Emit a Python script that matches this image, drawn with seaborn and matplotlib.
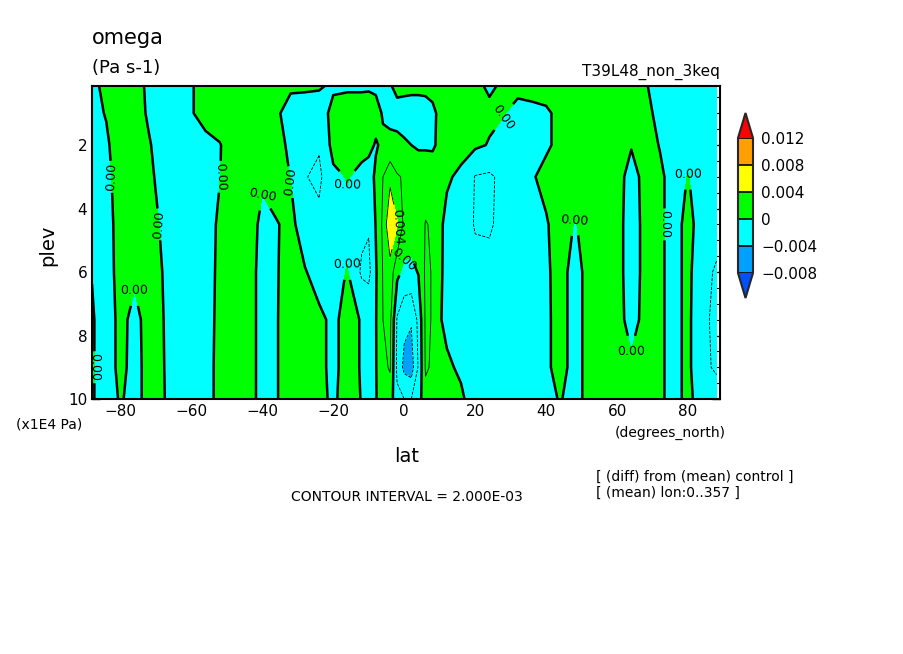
import numpy as np
import matplotlib
matplotlib.use("Agg")
import matplotlib.pyplot as plt
import seaborn as sns
from matplotlib.colors import ListedColormap, BoundaryNorm
from matplotlib.ticker import MultipleLocator

sns.set_theme(style="ticks")
plt.rcParams['font.family'] = ['DejaVu Sans']
plt.rcParams['text.color'] = 'black'
plt.rcParams['xtick.color'] = 'black'
plt.rcParams['ytick.color'] = 'black'

lat = [-88, -84, -80, -76, -72, -68, -64, -60, -56, -52,
       -48, -44, -40, -36, -32, -28, -24, -20, -16, -12,
       -10, -8, -6, -4, -2, 0, 2, 4, 6, 8,
       10, 12, 16, 20, 24, 28, 32, 36, 40, 44,
       48, 52, 56, 60, 64, 68, 72, 76, 80, 84, 88]
plev = [0.14, 1.0, 2.0, 3.0, 4.5, 6.0, 7.5, 9.0, 10.0]

# omega difference, units of 1e-3 Pa/s, one row per plev level
row_p0 = [-0.5, 0.5, 1, 1, -0.5, -1, -1, -0.2, 1, 1,
          1, 1, 0.8, 0.2, 0.3, 0.3, 0.2, -0.3, -0.3, -0.3,
          -0.2, -0.2, -0.2, -0.1, 0.3, 0.3, 0.3, 0.3, 0.3, 0.3,
          0.3, 0.5, 0.5, 0.3, -0.2, 0.2, 0.5, 0.8, 0.8, 1,
          1, 1, 1, 0.8, 1, 0.1, -0.5, -0.8, -0.8, -0.8, -0.8]
row_p1 = [-0.5, 0.1, 1, 1, -0.3, -1, -1, -0.2, 1, 1,
          1, 1, 0.3, 0.3, -0.8, -1, -1, 0.6, 1, 1,
          0.8, 0.4, -0.1, -0.4, -0.4, -0.5, -0.6, -0.6, -0.5, -0.2,
          0.2, 0.6, 0.6, 0.5, 0.3, 0.1, -0.6, -0.6, -0.3, 0.5,
          1, 1, 1, 0.8, 1, 0.3, -0.3, -0.8, -0.8, -0.8, -0.8]
row_p2 = [-0.5, -0.3, 1, 1, 0.2, -1, -1, -1, -0.8, -0.1,
          1, 1, 0.8, 0.5, -0.3, -1.2, -1.8, 0.6, 0.9, 0.6,
          0.3, -0.1, 0.2, 0.4, 0.3, 0.15, 0.0, -0.1, -0.2, -0.2,
          0.3, 0.5, 0.5, 0.3, -0.1, -0.8, -0.8, -0.6, -0.3, 0.5,
          1, 1, 1, 0.8, 0.1, 0.5, -0.05, -0.8, -0.5, -0.8, -0.8]
row_p3 = [-0.5, -0.6, 1, 1, 0.5, -0.8, -1, -1, -0.8, -0.05,
          1, 1, 0.3, 0.8, -0.05, -1.9, -2.4, -0.4, 0.1, -0.5,
          -0.5, 0.2, 2.0, 3.5, 2.2, 1.8, 0.8, 0.5, 1.0, 0.8,
          0.3, 0.2, -0.3, -2.1, -2.3, -1.5, -1.0, -0.2, 0.6, 1,
          1, 1, 1, 0.6, -0.6, 0.5, 0.25, -0.5, 0.05, -0.6, -0.8]
row_p45 = [-0.5, -1, 1, 1, 0.8, -0.3, -1, -1, -0.8, 0.3,
           1, 1, -0.5, -0.1, 0.4, -0.8, -1.5, -0.8, -0.5, -1.5,
           -1.8, 0.1, 2.4, 5.8, 4.2, 1.5, 1.0, 0.8, 2.1, 1.8,
           0.3, -0.4, -0.6, -2.2, -2.2, -1.5, -1.0, -0.6, -0.2, 1,
           -0.1, 0.5, 1, 0.6, -0.8, 0.5, 0.25, -0.5, 0.4, -0.6, -1.0]
row_p6 = [-0.1, -1.2, 1, 0.5, 1, -0.05, -1, -1, -0.8, 0.4,
          1, 1, -0.8, -0.1, 0.6, 0.1, -0.6, -0.6, 0.1, -2.3,
          -2.5, -0.2, 2.1, 3.2, 0.5, -0.5, -0.5, 0.1, 2.3, 1.9,
          0.3, -0.5, -0.6, -1.2, -1.5, -1.0, -0.8, -0.6, -0.25, 0.6,
          -0.6, 0.5, 1, 0.6, -0.8, 0.5, 0.25, -0.5, 0.4, -1.2, -2.3]
row_p75 = [0.3, -1.5, 0.8, -0.8, 1, 0.05, -1, -1, -0.8, 0.5,
           1, 1, -0.8, -0.1, 0.8, 0.3, 0.3, -0.3, 0.5, -0.1,
           -0.5, -0.1, 2.0, 2.5, -2.2, -3.5, -3.8, -1.5, 2.3, 1.9,
           0.1, -0.3, -0.5, -0.8, -1.0, -1.0, -0.8, -0.6, -0.3, 0.6,
           -0.6, 0.5, 1, 0.6, -0.6, 0.5, 0.25, -0.5, 0.4, -1.5, -2.5]
row_p9 = [0.3, -1.5, 0.8, -1.0, 1, 0.1, -1, -1, -0.8, 0.6,
          1, 1, -0.8, -0.1, 0.8, 0.2, 0.3, -0.3, 0.5, -0.1,
          -0.4, -0.1, 1.5, 2.2, -2.5, -4.5, -5.0, -1.8, 2.2, 1.8,
          0.3, 0.2, -0.2, -0.8, -1.2, -0.8, -0.8, -0.6, -0.3, 0.6,
          -0.6, 0.5, 1, 0.6, 0.3, 0.5, 0.25, -0.5, 0.4, -1.5, -2.3]
row_p10 = [0.3, -1.5, 0.3, -1.0, 1, 0.15, -1, -1, -0.8, 0.6,
           1, 1, -0.8, -0.1, 0.8, 0.2, 0.3, -0.2, 0.5, -0.05,
           -0.3, -0.1, 1.0, 1.0, -1.5, -2.0, -2.0, -1.0, 1.5, 1.0,
           0.3, 0.3, 0.2, -0.6, -1.0, -0.5, -0.6, -0.5, -0.4, 0.1,
           -0.6, 0.5, 1, 0.6, 0.5, 0.5, 0.25, -0.5, 0.4, -0.8, -1.0]

cbar_bounds = [-0.008, -0.004, 0, 0.004, 0.008, 0.012]
cbar_labels = ["\u22120.008", "\u22120.004", "0", "0.004", "0.008", "0.012"]
fill_colors = ["#0050ff", "#00a0ff", "#00ffff", "#00ff00", "#ffff00", "#ffa000", "#ff0000"]

Z = np.array([row_p0, row_p1, row_p2, row_p3, row_p45, row_p6, row_p75, row_p9, row_p10]) * 1e-3
LAT, P = np.meshgrid(lat, plev)

fig = plt.figure(figsize=(9.04, 6.54), dpi=100)
ax = fig.add_axes([92/904, 1-399/654, 628/904, 313/654])

fill_levels = [-1] + cbar_bounds + [1]
ax.contourf(LAT, P, Z, levels=fill_levels, colors=fill_colors)
line_levels = np.round(np.arange(-0.012, 0.0121, 0.002), 4)
neg = [l for l in line_levels if l < 0]
pos = [l for l in line_levels if l > 0]
ax.contour(LAT, P, Z, levels=neg, colors="black", linewidths=0.6, linestyles="--")
cp = ax.contour(LAT, P, Z, levels=pos, colors="black", linewidths=0.6, linestyles="-")
c0 = ax.contour(LAT, P, Z, levels=[0], colors="black", linewidths=1.8, linestyles="-")
ax.clabel(c0, fmt={0: "0.00"}, fontsize=9, inline=True, inline_spacing=2)
ax.clabel(cp, levels=[0.004], fmt={0.004: "0.004"}, fontsize=9, inline=True)

ax.set_xlim(-88, 89)
ax.set_ylim(10, 0.14)
ax.set_xticks([-80, -60, -40, -20, 0, 20, 40, 60, 80])
ax.set_yticks([2, 4, 6, 8, 10])
ax.xaxis.set_minor_locator(MultipleLocator(5))
ax.yaxis.set_minor_locator(MultipleLocator(0.5))
ax.tick_params(which="both", direction="in", top=True, right=True, labelsize=11, colors="black")
ax.tick_params(which="major", length=6, width=1)
ax.tick_params(which="minor", length=3, width=0.8)
for s in ax.spines.values():
    s.set_linewidth(1.5)
    s.set_color("black")
ax.set_xlabel("")
ax.set_ylabel("")

fig.text(92/904, 1-38/654, "omega", fontsize=15, va="center", ha="left")
fig.text(92/904, 1-68/654, "(Pa s-1)", fontsize=13, va="center", ha="left")
fig.text(720/904, 1-72/654, "T39L48_non_3keq", fontsize=11, va="center", ha="right")
fig.text(48/904, 1-245/654, "plev", fontsize=14, rotation=90, va="center", ha="center")
fig.text(407/904, 1-456/654, "lat", fontsize=14, va="center", ha="center")
fig.text(16/904, 1-424/654, "(x1E4 Pa)", fontsize=10, va="center", ha="left")
fig.text(615/904, 1-433/654, "(degrees_north)", fontsize=10, va="center", ha="left")
fig.text(407/904, 1-497/654, "CONTOUR INTERVAL = 2.000E-03", fontsize=10, va="center", ha="center")
fig.text(596/904, 1-477/654, "[ (diff) from (mean) control ]", fontsize=10, va="center", ha="left")
fig.text(596/904, 1-493/654, "[ (mean) lon:0..357 ]", fontsize=10, va="center", ha="left")

cax = fig.add_axes([738/904, 1-298/654, 15/904, 185/654])
cmap = ListedColormap(fill_colors[1:-1])
cmap.set_under(fill_colors[0])
cmap.set_over(fill_colors[-1])
norm = BoundaryNorm(cbar_bounds, cmap.N)
sm = matplotlib.cm.ScalarMappable(norm=norm, cmap=cmap)
cb = fig.colorbar(sm, cax=cax, extend="both", extendfrac=0.185, ticks=cbar_bounds)
cb.ax.set_yticklabels(cbar_labels)
cb.ax.tick_params(length=0, labelsize=11, pad=6)
cb.outline.set_linewidth(1.5)
cb.ax.hlines(cbar_bounds, 0, 1, colors="black", linewidth=1.2, transform=cb.ax.get_yaxis_transform())

fig.savefig("out.png", dpi=100)
